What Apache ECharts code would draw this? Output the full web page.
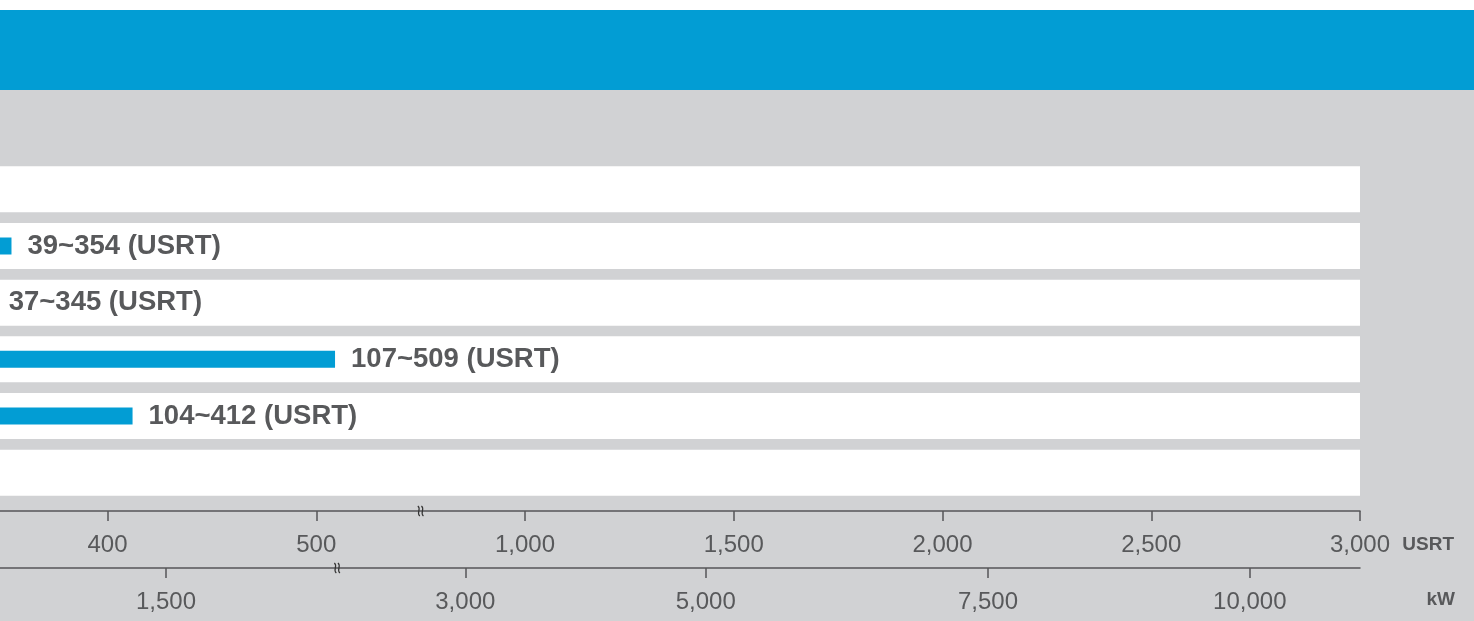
<!DOCTYPE html>
<html><head><meta charset="utf-8">
<script src="https://cdn.jsdelivr.net/npm/echarts@6/dist/echarts.min.js"></script>
<style>html,body{margin:0;padding:0;background:#fff}#c{width:1474px;height:621px}</style>
</head><body><div id="c"></div>
<script>
// ---- data ----
const categories = ['Model A', 'Model B', 'Model C', 'Model D', 'Model E', 'Model F'];
const rangeLow  = [null, 39, 37, 107, 104, null];   // USRT
const rangeHigh = [null, 354, 345, 509, 412, null]; // USRT
const usrtTicks = [400, 500, 1000, 1500, 2000, 2500, 3000];
const kwTicks = [1500, 3000, 5000, 7500, 10000];
const kwTickAtUSRT = [428, 857, 1433, 2109, 2736]; // where each kW tick sits on the USRT scale
const USRT_MIN = 348.5;    // visible start of the (cropped) axis
const USRT_MAX = 3000;
const usrtBreakAt = 650;   // USRT axis break (between 500 and 1000)
const kwBreakAtUSRT = 510; // kW axis break

// piecewise (broken) scale: 100 USRT per unit below the break, 500 USRT per unit above it
function toT(v) {
  if (v <= 550) return 1 + (v - 400) / 100;
  if (v >= 750) return 3 + (v - 1000) / 500;
  return 2.5;
}
function toUSRT(t) {
  if (t <= 2.5) return Math.round(400 + (t - 1) * 100);
  return Math.round(1000 + (t - 3) * 500);
}
const fmt = v => v.toLocaleString('en-US');
const kwTickT = kwTickAtUSRT.map(toT);

const TXT = '#58595b';
const FONT = '"Liberation Sans", Arial, Helvetica, sans-serif';
const GRID = { left: 0, right: 114, top: 161, bottom: 120 };

const chart = echarts.init(document.getElementById('c'), null, { renderer: 'canvas' });
const option = {
  backgroundColor: '#d1d2d4',
  animation: false,
  grid: GRID,
  textStyle: { fontFamily: FONT },
  xAxis: [{
    type: 'value', min: toT(USRT_MIN), max: toT(USRT_MAX), position: 'bottom', offset: 10,
    axisLine: { show: true, lineStyle: { color: '#555658', width: 1.5 } },
    axisTick: { show: true, customValues: usrtTicks.map(toT), length: 10, lineStyle: { color: '#555658', width: 1.5 } },
    axisLabel: { customValues: usrtTicks.map(toT), formatter: v => fmt(toUSRT(v)), margin: 22,
      fontSize: 24, color: TXT, fontFamily: FONT },
    splitLine: { show: false },
    name: 'USRT', nameLocation: 'end', nameGap: 94,
    nameTextStyle: { fontSize: 19, fontWeight: 'bold', color: TXT, fontFamily: FONT,
      align: 'right', verticalAlign: 'top', padding: [24, 0, 0, 0] }
  }, {
    type: 'value', min: toT(USRT_MIN), max: toT(USRT_MAX), position: 'bottom', offset: 67,
    axisLine: { show: true, lineStyle: { color: '#555658', width: 1.5 } },
    axisTick: { show: true, customValues: kwTickT, length: 10, lineStyle: { color: '#555658', width: 1.5 } },
    axisLabel: { customValues: kwTickT, margin: 22, fontSize: 24, color: TXT, fontFamily: FONT,
      formatter: v => {
        let best = 0;
        kwTickT.forEach((t, i) => { if (Math.abs(t - v) < Math.abs(kwTickT[best] - v)) best = i; });
        return fmt(kwTicks[best]);
      } },
    splitLine: { show: false },
    name: 'kW', nameLocation: 'end', nameGap: 95,
    nameTextStyle: { fontSize: 19, fontWeight: 'bold', color: TXT, fontFamily: FONT,
      align: 'right', verticalAlign: 'top', padding: [22, 0, 0, 0] }
  }],
  yAxis: [
    { type: 'category', data: categories, inverse: true, show: false },
    { type: 'category', data: categories, inverse: true, show: false }
  ],
  series: [{
    name: 'rows', type: 'bar', yAxisIndex: 1, xAxisIndex: 0,
    data: categories.map(() => toT(USRT_MAX)),
    barWidth: 46, itemStyle: { color: '#ffffff' }, silent: true, z: 1
  }, {
    name: 'capacity', type: 'bar', yAxisIndex: 0, xAxisIndex: 0, clip: false,
    data: rangeHigh.map(v => v == null ? null : toT(v)),
    barWidth: 17, itemStyle: { color: '#029dd4' }, z: 2,
    label: { show: true, position: 'right', distance: 16, fontSize: 27.5, fontWeight: 'bold',
      color: TXT, fontFamily: FONT,
      formatter: p => rangeHigh[p.dataIndex] == null ? '' : `${rangeLow[p.dataIndex]}~${rangeHigh[p.dataIndex]} (USRT)` }
  }]
};
chart.setOption(option);

// decorative header band + axis break marks
function breakMark(x, y) {
  const s = { stroke: '#333', lineWidth: 1.2, fill: null };
  return [-1.8, 1.8].map(dx => ({
    type: 'bezierCurve', z: 20,
    shape: { x1: x + dx - 1, y1: y - 5, cpx1: x + dx + 3, cpy1: y - 2, cpx2: x + dx - 3, cpy2: y + 2, x2: x + dx + 1, y2: y + 5 },
    style: s
  }));
}
const W = chart.getWidth(), H = chart.getHeight();
const axisY0 = H - GRID.bottom + 10, axisY1 = H - GRID.bottom + 67;
const bx0 = chart.convertToPixel({ xAxisIndex: 0 }, toT(usrtBreakAt));
const bx1 = chart.convertToPixel({ xAxisIndex: 1 }, toT(kwBreakAtUSRT));
chart.setOption({
  graphic: [
    { type: 'rect', z: -10, shape: { x: 0, y: 0, width: W, height: 10 }, style: { fill: '#ffffff' } },
    { type: 'rect', z: -10, shape: { x: 0, y: 10, width: W, height: 80 }, style: { fill: '#029dd4' } },
    ...breakMark(bx0, axisY0),
    ...breakMark(bx1, axisY1)
  ]
});
</script></body></html>
